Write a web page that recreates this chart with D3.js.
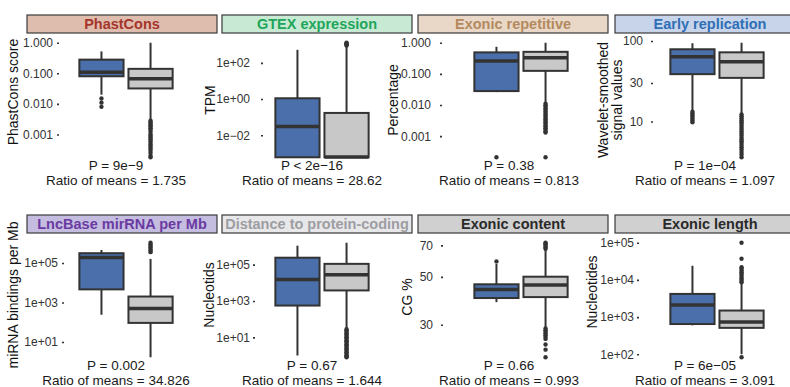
<!DOCTYPE html>
<html>
<head>
<meta charset="utf-8">
<script src="https://cdn.jsdelivr.net/npm/d3@7"></script>
<style>
  body { margin: 0; background: #fff; }
  svg { display: block; font-family: "Liberation Sans", Arial, sans-serif; }
</style>
</head>
<body>
<svg id="chart"></svg>
<script>
// two groups per panel: blue = lncRNA set, grey = background set
const groups = ['lncRNA', 'background'];

const titles = [
  'PhastCons', 'GTEX expression', 'Exonic repetitive', 'Early replication',
  'LncBase mirRNA per Mb', 'Distance to protein-coding', 'Exonic content', 'Exonic length'
];
const yTitles = [
  ['PhastCons score'], ['TPM'], ['Percentage'], ['Wavelet-smoothed', 'signal values'],
  ['miRNA bindings per Mb'], ['Nucleotids'], ['CG %'], ['Nucleotides']
];
const pLabels = [
  'P = 9e\u22129', 'P < 2e\u221216', 'P = 0.38', 'P = 1e\u221204',
  'P = 0.002', 'P = 0.67', 'P = 0.66', 'P = 6e\u221205'
];
const ratios = ['1.735', '28.62', '0.813', '1.097', '34.826', '1.644', '0.993', '3.091'];

// [lower whisker, Q1, median, Q3, upper whisker] for [blue, grey]
const boxStats = [
  [[0.020, 0.08, 0.108, 0.28, 0.52], [0.003, 0.032, 0.067, 0.14, 1.0]],
  [[6e-4, 6e-4, 0.03, 1.1, 528], [6e-4, 6e-4, 6.3e-4, 0.17, 780]],
  [[0.026, 0.028, 0.26, 0.49, 0.74], [0.0115, 0.125, 0.33, 0.51, 1.0]],
  [[13.7, 38.7, 63.7, 78.8, 93.6], [12.5, 34.8, 55.1, 72.2, 95]],
  [[240, 4600, 1.9e5, 3.1e5, 4.5e5], [1.7, 93, 500, 2000, 1.6e5]],
  [[1, 560, 1.5e4, 2.4e5, 1.1e6], [32, 3800, 2.8e4, 1.1e5, 1.6e6]],
  [[38.2, 39.9, 43.7, 46.2, 57.5], [29.1, 40.3, 45.8, 50.1, 67]],
  [[600, 650, 2100, 4200, 2.4e4], [100, 513, 733, 1500, 7800]]
];

const outliers = [
  [[0.015, 0.011, 0.008],
   [0.0028, 0.0025, 0.0022, 0.002, 0.0018, 0.0016, 0.0014, 0.0012, 0.001, 0.0009, 0.0008,
    0.0007, 0.0006, 0.0005, 0.00045, 0.0004, 0.00035, 0.0003, 0.00025, 0.0002, 0.00018]],
  [[], [900, 1000, 1100, 1200, 1300]],
  [[2.1e-4],
   [0.011, 0.0098, 0.0088, 0.0078, 0.007, 0.0062, 0.0055, 0.0049, 0.0044, 0.0039, 0.0035,
    0.0031, 0.0028, 0.0025, 0.0022, 0.002, 0.0018, 0.0016, 0.0014, 0.0013, 2.1e-4]],
  [[13.2, 12.6, 12, 11.4, 10.8, 10.3, 9.8],
   [12.2, 11.6, 11, 10.4, 9.8, 9.3, 8.8, 8.3, 7.9, 7.5, 7.1, 6.7, 6.3, 6.0, 5.7, 5.4,
    5.1, 4.8, 4.5, 4.2, 3.9, 3.6]],
  [[], [3.5e5, 4.2e5, 5e5, 6e5, 7.2e5, 8.6e5, 1.05e6]],
  [[], [28, 24, 20, 17, 14, 12, 10, 8.5, 7, 6, 5, 4.2, 3.5, 3, 2.5, 2.1, 1.8, 1.5, 1.25, 1.05, 0.9, 0.8]],
  [[59],
   [67.5, 68.5, 69.5, 70.5, 71.5, 72, 28.8, 28.3, 27.8, 27.3, 26.8, 26.3, 25.8, 24.3, 23.0, 21.2]],
  [[], [1e5, 3.7e4, 2.2e4, 2e4, 1.8e4, 1.6e4, 1.45e4, 1.3e4, 1.15e4, 1.05e4, 9500, 8600, 83]]
];

const tickValues = [
  [0.001, 0.01, 0.1, 1], [1e-2, 1, 1e2], [0.001, 0.01, 0.1, 1], [10, 30, 100],
  [10, 1e3, 1e5], [10, 1e3, 1e5], [30, 50, 70], [1e2, 1e3, 1e4, 1e5]
];
const tickLabels = [
  ['0.001', '0.010', '0.100', '1.000'], ['1e\u221202', '1e+00', '1e+02'],
  ['0.001', '0.010', '0.100', '1.000'], ['10', '30', '100'],
  ['1e+01', '1e+03', '1e+05'], ['1e+01', '1e+03', '1e+05'],
  ['30', '50', '70'], ['1e+02', '1e+03', '1e+04', '1e+05']
];

// strip styling
const stripFill = ['#dfbdae', '#c8ead4', '#e9d8c8', '#c7d4ea', '#c5bde0', '#e8e8ea', '#d0d0d0', '#d0d0d0'];
const stripText = ['#a5352b', '#20a55a', '#b38a5e', '#2f6fb5', '#6a3aa2', '#9d9da2', '#2a2a2a', '#2a2a2a'];
const boxFill = ['#4a6fab', '#c8c8c8'];

// layout
const width = 790, height = 387;
const stripX = [27, 222, 418, 615];
const stripW = 190;
const plotX = [72, 268, 467, 663];
const plotW = 108;
const textX = [116, 312, 509, 705];
const tickX = [58, 262, 441, 652, 63, 254, 442, 638];
const labelX = [55, 252, 433, 645, 60, 252, 435, 636];
const yTitleX = [13, 210, 393, 610, 13, 209, 407, 592];
const yTitleY = [92, 100, 100, 100, 295, 295, 297, 292];
const dark = '#333';

const svg = d3.select('#chart')
  .attr('width', width)
  .attr('height', height);

titles.forEach((title, i) => {
  const col = i % 4;
  const top = Math.floor(i / 4) * 200;
  const g = svg.append('g');

  const x = d3.scalePoint()
    .domain(groups)
    .range([plotX[col], plotX[col] + plotW])
    .padding(0.6);
  const bw = x.step() * 0.9;

  const all = boxStats[i].flat().concat(outliers[i].flat());
  const lo = Math.log10(d3.min(all));
  const hi = Math.log10(d3.max(all));
  const pad = (hi - lo) * 0.05;
  const y = d3.scaleLog()
    .domain([10 ** (lo - pad), 10 ** (hi + pad)])
    .range([top + 163, top + 37]);

  // strip
  g.append('rect')
    .attr('x', stripX[col])
    .attr('y', top + 15)
    .attr('width', stripW)
    .attr('height', 18)
    .attr('fill', stripFill[i])
    .attr('stroke', '#3a3a3a')
    .attr('stroke-width', 1.2);
  g.append('text')
    .attr('x', stripX[col] + stripW / 2)
    .attr('y', top + 24)
    .attr('dy', '0.35em')
    .attr('text-anchor', 'middle')
    .attr('font-size', 14.5)
    .attr('font-weight', 'bold')
    .attr('fill', stripText[i])
    .text(title);

  // y axis
  const ax = g.append('g')
    .attr('transform', `translate(${tickX[i] + 1},0)`)
    .call(d3.axisLeft(y)
      .tickValues(tickValues[i])
      .tickFormat((d, k) => tickLabels[i][k])
      .tickSize(2)
      .tickPadding(tickX[i] - labelX[i] + 1))
    .attr('font-size', 12)
    .attr('font-family', null)
    .attr('color', dark);
  ax.select('.domain').remove();
  ax.selectAll('.tick line').attr('stroke-width', 1.6);

  const yt = g.append('text')
    .attr('transform', `translate(${yTitleX[i]},${yTitleY[i]}) rotate(-90)`)
    .attr('text-anchor', 'middle')
    .attr('font-size', 14)
    .attr('fill', '#111');
  yTitles[i].forEach((line, k, arr) => {
    yt.append('tspan')
      .attr('x', 0)
      .attr('y', (k - (arr.length - 1) / 2) * 14)
      .attr('dy', '0.35em')
      .text(line);
  });

  // boxes
  groups.forEach((grp, j) => {
    const [wLo, q1, med, q3, wHi] = boxStats[i][j];
    const cx = x(grp);
    g.append('line')
      .attr('x1', cx).attr('x2', cx)
      .attr('y1', y(wHi)).attr('y2', y(wLo))
      .attr('stroke', dark)
      .attr('stroke-width', 2);
    g.append('rect')
      .attr('x', cx - bw / 2)
      .attr('y', y(q3))
      .attr('width', bw)
      .attr('height', y(q1) - y(q3))
      .attr('fill', boxFill[j])
      .attr('stroke', dark)
      .attr('stroke-width', 2);
    g.append('line')
      .attr('x1', cx - bw / 2).attr('x2', cx + bw / 2)
      .attr('y1', y(med)).attr('y2', y(med))
      .attr('stroke', dark)
      .attr('stroke-width', 3.5);
    g.selectAll(null)
      .data(outliers[i][j])
      .enter()
      .append('circle')
        .attr('cx', cx)
        .attr('cy', d => y(d))
        .attr('r', 2.2)
        .attr('fill', dark);
  });

  // test annotation
  g.append('text')
    .attr('x', textX[col])
    .attr('y', top + 169.5)
    .attr('text-anchor', 'middle')
    .attr('font-size', 13.5)
    .attr('fill', '#1a1a1a')
    .text(pLabels[i]);
  g.append('text')
    .attr('x', textX[col])
    .attr('y', top + 185)
    .attr('text-anchor', 'middle')
    .attr('font-size', 13.5)
    .attr('fill', '#1a1a1a')
    .text(`Ratio of means = ${ratios[i]}`);
});
</script>
</body>
</html>
